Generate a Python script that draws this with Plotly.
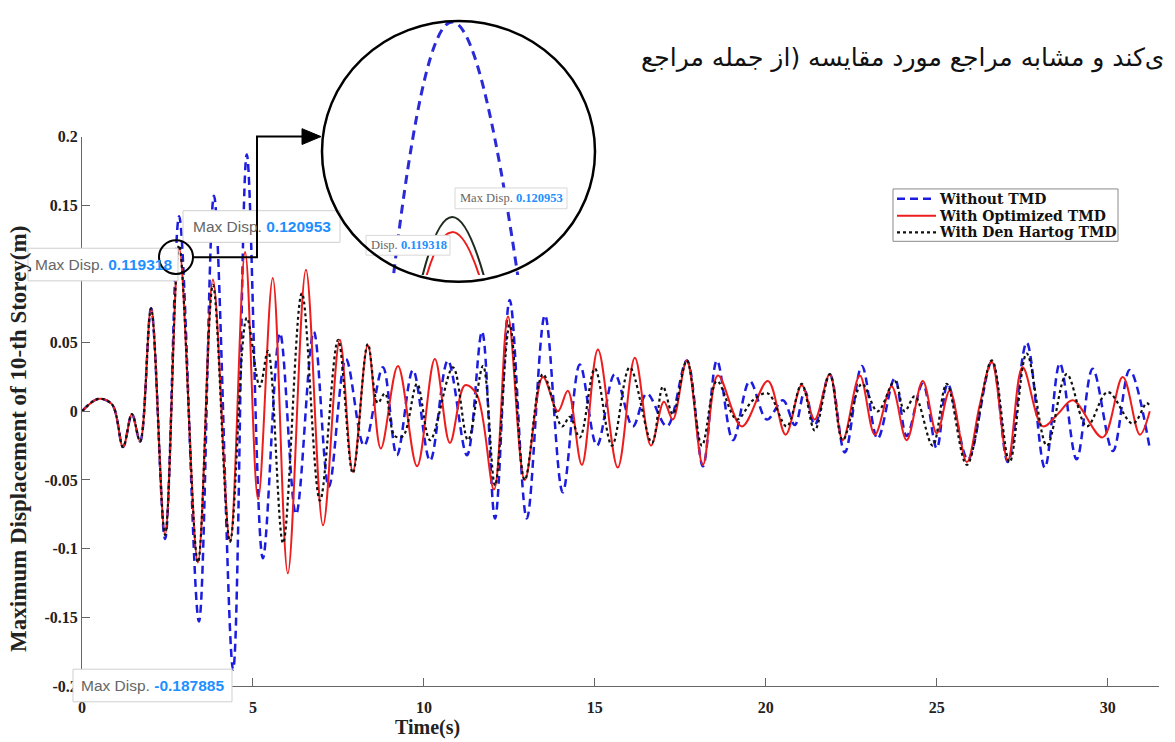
import plotly.graph_objects as go

# ---------------- data ----------------
# Without TMD (blue dashed) : extrema (time s, displacement m)
t_without = [0, 0.47, 0.88, 1.20, 1.46, 1.70, 2.02, 2.43, 2.84, 3.42, 3.86, 4.42, 4.82,
             5.29, 5.79, 6.26, 6.78, 7.22, 7.72, 8.25, 8.80, 9.21, 9.68, 10.18, 10.70,
             11.26, 11.70, 12.08, 12.51, 13.01, 13.54, 14.06, 14.56, 15.06, 15.58, 16.11,
             16.52, 17.11, 17.69, 18.16, 18.57, 19.04, 19.53, 20.03, 20.50, 20.85, 21.14,
             21.43, 21.87, 22.31, 22.81, 23.27, 23.77, 24.12, 24.59, 25.00, 25.32, 25.91,
             26.61, 27.08, 27.63, 28.16, 28.60, 29.09, 29.56, 30.15, 30.64, 31.23]
d_without = [0, 0.009, 0.005, -0.026, -0.002, -0.022, 0.075, -0.093, 0.142, -0.153, 0.157,
             -0.188, 0.187, -0.107, 0.057, -0.075, 0.058, -0.055, 0.038, -0.025, 0.032,
             -0.032, 0.030, -0.036, 0.037, -0.032, 0.058, -0.078, 0.081, -0.078, 0.070,
             -0.059, 0.034, -0.025, 0.027, -0.011, 0.013, -0.011, 0.037, -0.040, 0.037,
             -0.021, 0.022, -0.006, 0.008, -0.010, 0.015, -0.010, 0.027, -0.030, 0.033,
             -0.020, 0.024, -0.018, 0.020, -0.027, 0.020, -0.035, 0.036, -0.037, 0.050,
             -0.041, 0.035, -0.035, 0.031, -0.029, 0.030, -0.027]

# With Optimized TMD (red solid)
t_opt = [0, 0.47, 0.88, 1.20, 1.46, 1.70, 2.02, 2.43, 2.84, 3.39, 3.83, 4.33, 4.77, 5.15,
         5.58, 6.02, 6.55, 7.05, 7.54, 7.92, 8.36, 8.74, 9.24, 9.80, 10.32, 10.76, 11.20,
         11.55, 12.05, 12.46, 12.95, 13.48, 13.92, 14.21, 14.62, 15.09, 15.67, 16.17, 16.64,
         17.02, 17.28, 17.69, 18.16, 18.60, 19.30, 20.06, 20.58, 21.05, 21.43, 21.87, 22.25,
         22.75, 23.19, 23.68, 24.12, 24.59, 25.00, 25.38, 25.88, 26.26, 26.61, 27.08, 27.51,
         28.10, 28.54, 28.98, 29.85, 30.44, 30.94, 31.23]
d_opt = [0, 0.009, 0.005, -0.026, -0.002, -0.022, 0.075, -0.090, 0.119318, -0.110, 0.096,
         -0.095, 0.116, -0.064, 0.097, -0.118, 0.103, -0.083, 0.052, -0.044, 0.048, -0.027,
         0.033, -0.040, 0.038, -0.023, 0.019, 0.012, -0.057, 0.069, -0.050, 0.025, 0.000,
         0.015, -0.039, 0.045, -0.041, 0.039, -0.025, 0.007, -0.006, 0.037, -0.039, 0.026,
         -0.011, 0.022, -0.017, 0.019, -0.006, 0.027, -0.021, 0.026, -0.017, 0.018, -0.021,
         0.022, -0.016, 0.015, -0.037, 0.005, 0.036, -0.036, 0.032, -0.011, -0.002, 0.008,
         -0.019, 0.025, -0.017, 0.000]

# With Den Hartog TMD (black dotted)
t_dh = [0, 0.47, 0.88, 1.20, 1.46, 1.70, 2.02, 2.43, 2.84, 3.39, 3.83, 4.33, 4.82, 5.20,
        5.44, 5.88, 6.43, 6.96, 7.49, 7.92, 8.36, 8.65, 8.86, 9.15, 9.39, 9.80, 10.18,
        10.85, 11.29, 11.73, 12.08, 12.51, 12.95, 13.48, 14.04, 14.27, 14.56, 15.00, 15.50,
        16.02, 16.67, 16.99, 17.28, 17.69, 18.13, 18.57, 19.15, 19.62, 20.06, 20.61, 21.05,
        21.43, 21.87, 22.25, 22.81, 23.27, 23.77, 24.06, 24.36, 24.88, 25.29, 25.88, 26.61,
        27.13, 27.63, 28.22, 28.80, 29.39, 30.00, 30.73, 31.14, 31.23]
d_dh = [0, 0.009, 0.005, -0.026, -0.002, -0.022, 0.075, -0.090, 0.120953, -0.110, 0.092,
        -0.095, 0.068, 0.018, 0.044, -0.096, 0.086, -0.065, 0.052, -0.045, 0.049, 0.006,
        0.013, -0.018, -0.018, 0.020, -0.021, 0.032, -0.021, 0.033, -0.054, 0.063, -0.050,
        0.027, -0.011, -0.004, -0.019, 0.031, -0.025, 0.032, -0.023, 0.018, -0.002, 0.037,
        -0.025, 0.022, -0.006, 0.008, 0.013, -0.011, 0.020, -0.014, 0.027, -0.021, 0.020,
        0.000, 0.022, 0.000, 0.011, -0.025, 0.020, -0.039, 0.037, -0.037, 0.042, -0.025,
        0.027, -0.011, 0.014, -0.009, 0.006, 0.004]

series_names = ["Without TMD", "With Optimized TMD", "With Den Hartog TMD"]
x_tick_vals = [0, 5, 10, 15, 20, 25, 30]
x_tick_text = ["0", "5", "10", "15", "20", "25", "30"]
y_tick_vals = [-0.2, -0.15, -0.1, -0.05, 0, 0.05, 0.1, 0.15, 0.2]
y_tick_text = ["-0.2", "-0.15", "-0.1", "-0.05", "0", "0.05", "", "0.15", "0.2"]
tip_labels = ["0.120953", "0.119318", "-0.187885"]
persian_line = "ی\u200cکند و مشابه مراجع مورد مقایسه (از جمله مراجع"

# ---------------- styling ----------------
BLUE = "#1c1ce0"
RED = "#ee1d1d"
BLACK = "#111111"
SERIF = "Liberation Serif"
SANS = "Liberation Sans"

main_lines = [dict(color=BLUE, width=2.5, dash="8px,5px"),
              dict(color=RED, width=2),
              dict(color=BLACK, width=2.2, dash="dot")]
inset_lines = [dict(color="#2a2ad8", width=3, dash="9px,6px"),
               dict(color=RED, width=2),
               dict(color="#1f2a1f", width=2)]
series = [(t_without, d_without), (t_opt, d_opt), (t_dh, d_dh)]

fig = go.Figure()
for (tx, dy), ln, name in zip(series, main_lines, series_names):
    fig.add_trace(go.Scatter(x=tx, y=dy, mode="lines", name=name, showlegend=False,
                             line=dict(shape="spline", smoothing=1, **ln),
                             xaxis="x", yaxis="y", hoverinfo="skip"))
# magnified inset (same data on zoomed axes)
for (tx, dy), ln in zip(series, inset_lines):
    fig.add_trace(go.Scatter(x=tx, y=dy, mode="lines", showlegend=False,
                             line=dict(shape="spline", smoothing=1, **ln),
                             xaxis="x2", yaxis="y2", hoverinfo="skip"))

W, H = 1175, 742
L, R, T, B = 82, 16, 10, 56
pw, ph = W - L - R, H - T - B


def px(x):
    return (x - L) / pw


def py(y):
    return (H - B - y) / ph


axis_common = dict(showgrid=False, zeroline=False, showline=True, linecolor="#666",
                   linewidth=1, ticks="inside", ticklen=8, tickcolor="#666",
                   tickfont=dict(family=SERIF, size=16, color="#222", weight="bold"))

fig.update_layout(
    width=W, height=H,
    margin=dict(l=L, r=R, t=T, b=B, pad=0),
    paper_bgcolor="white", plot_bgcolor="rgba(0,0,0,0)",
    showlegend=False,
    xaxis=dict(domain=[0, 1], range=[0, 31.5], anchor="y", tickvals=x_tick_vals,
               ticktext=x_tick_text, ticklabelstandoff=7, **axis_common),
    yaxis=dict(domain=[0, py(130)], range=[-0.2, 0.2], anchor="x", tickvals=y_tick_vals,
               ticktext=y_tick_text, **axis_common),
    xaxis2=dict(domain=[px(322), px(595)], range=[2.635, 3.065], anchor="y2", visible=False),
    yaxis2=dict(domain=[py(270), py(13)], range=[0.1147, 0.1421], anchor="x2", visible=False),
)

shapes = []
# legend frame and samples
legend_rows = [193, 210, 227]
shapes.append(dict(type="rect", xref="paper", yref="paper", layer="above",
                   x0=px(893), x1=px(1118), y0=py(236), y1=py(183),
                   fillcolor="white", line=dict(color="#8a8a8a", width=1)))
for ry, ln in zip(legend_rows, main_lines):
    shapes.append(dict(type="line", xref="paper", yref="paper", layer="above",
                       x0=px(897), x1=px(936), y0=py(ry), y1=py(ry), line=ln))
# data tip boxes (main)
for (x0, x1, y0, y1) in [(183, 340, 205, 237), (28, 178, 243, 276), (73, 232, 669, 702)]:
    shapes.append(dict(type="rect", xref="paper", yref="paper", layer="above",
                       x0=px(x0), x1=px(x1), y0=py(y1), y1=py(y0),
                       fillcolor="white", line=dict(color="#cfcfcf", width=1)))
# small circle around peak
shapes.append(dict(type="circle", xref="paper", yref="paper", layer="above",
                   x0=px(159), x1=px(193), y0=py(269), y1=py(235),
                   line=dict(color="black", width=2)))
# connector with arrow
shapes.append(dict(type="path", xref="paper", yref="paper", layer="above",
                   path=f"M {px(193)},{py(252)} L {px(257)},{py(252)} L {px(257)},{py(130)} L {px(305)},{py(130)}",
                   line=dict(color="black", width=2)))
shapes.append(dict(type="path", xref="paper", yref="paper", layer="above",
                   path=f"M {px(321)},{py(130)} L {px(302)},{py(122)} L {px(302)},{py(138)} Z",
                   fillcolor="black", line=dict(color="black", width=1)))
# inset tip boxes
for (x0, x1, y0, y1) in [(455, 567, 182, 203), (366, 450, 230, 250)]:
    shapes.append(dict(type="rect", xref="paper", yref="paper", layer="above",
                       x0=px(x0), x1=px(x1), y0=py(y1), y1=py(y0),
                       fillcolor="white", line=dict(color="#d8d8d8", width=1)))
# magnifier circle
shapes.append(dict(type="circle", xref="paper", yref="paper", layer="above",
                   x0=px(322), x1=px(595), y0=py(277), y1=py(13),
                   line=dict(color="black", width=2.5)))
fig.update_layout(shapes=shapes)


def tip_text(label, value):
    return (f"<span style='color:#666'>{label}</span> "
            f"<span style='color:#1e8fff'><b>{value}</b></span>")


ann = []
for ry, name in zip(legend_rows, series_names):
    ann.append(dict(xref="paper", yref="paper", x=px(938), y=py(ry), showarrow=False,
                    text=name, xanchor="left", yanchor="middle", borderpad=0,
                    font=dict(family="DejaVu Serif", size=14, color="#111", weight="bold")))
for (cx, cy), val in zip([(261.5, 221), (103, 259), (152.5, 685.5)], tip_labels):
    ann.append(dict(xref="paper", yref="paper", x=px(cx), y=py(cy), showarrow=False,
                    text=tip_text("Max Disp.", val), xanchor="center", yanchor="middle",
                    font=dict(family=SANS, size=15.5)))
ann.append(dict(xref="paper", yref="paper", x=px(511), y=py(192.5), showarrow=False,
                text=tip_text("Max Disp.", tip_labels[0]), xanchor="center", yanchor="middle",
                font=dict(family=SERIF, size=12.5)))
ann.append(dict(xref="paper", yref="paper", x=px(449), y=py(240), showarrow=False,
                text=tip_text("Disp.", tip_labels[1]), xanchor="right", yanchor="middle",
                font=dict(family=SERIF, size=12.5)))
# axis titles
ann.append(dict(xref="paper", yref="paper", x=px(19), y=py(436), showarrow=False,
                text="Maximum Displacement of 10-th Storey(m)", textangle=-90,
                xanchor="center", yanchor="middle",
                font=dict(family=SERIF, size=23, color="#222", weight="bold")))
ann.append(dict(xref="paper", yref="paper", x=px(427), y=py(728), showarrow=False,
                text="Time(s)", xanchor="center", yanchor="middle",
                font=dict(family=SERIF, size=20, color="#222", weight="bold")))
# surrounding document text
ann.append(dict(xref="paper", yref="paper", x=px(1166), y=py(50), showarrow=False,
                text=persian_line, xanchor="right", yanchor="middle",
                font=dict(family="DejaVu Sans", size=25, color="#111")))
fig.update_layout(annotations=ann)

fig.write_html("out.html")
